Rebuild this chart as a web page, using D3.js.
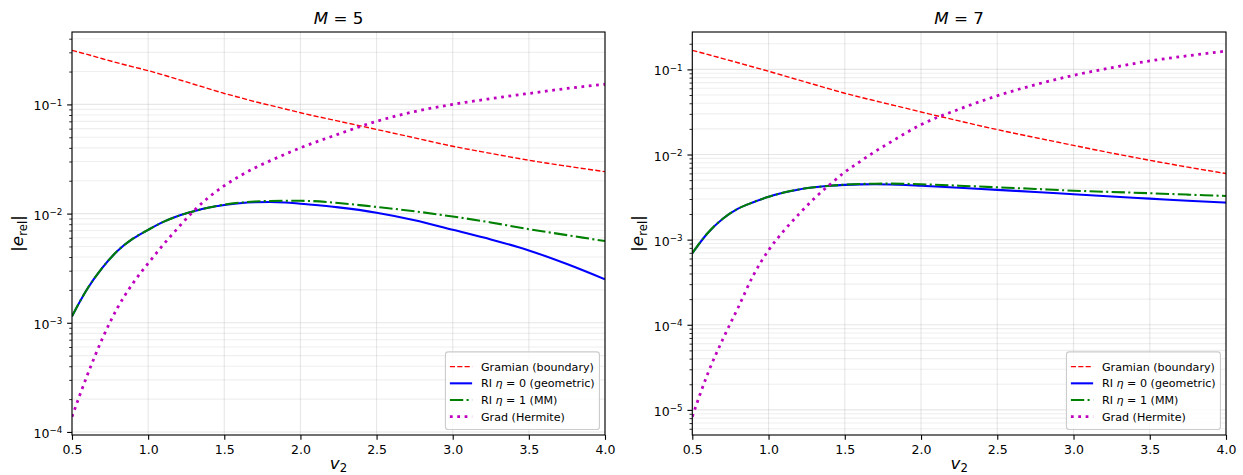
<!DOCTYPE html>
<html>
<head>
<meta charset="utf-8">
<script src="https://cdn.jsdelivr.net/npm/d3@7"></script>
<style>
  body { margin: 0; background: #fff; }
  text { font-family: "DejaVu Sans", sans-serif; fill: #000; }
</style>
</head>
<body>
<svg id="fig" width="1243" height="475"></svg>
<script>
// values
const v2Grid = [0.5, 0.6, 0.7, 0.8, 0.9, 1.0, 1.1, 1.2, 1.3, 1.4, 1.5, 1.6, 1.7, 1.8, 1.9, 2.0, 2.25, 2.5, 2.75, 3.0, 3.25, 3.5, 3.75, 4.0]
const xTicks = [0.5, 1.0, 1.5, 2.0, 2.5, 3.0, 3.5, 4.0]

const gramianM5 = [0.313, 0.287, 0.262, 0.240, 0.221, 0.204, 0.186, 0.169, 0.153, 0.139, 0.126, 0.116, 0.106, 0.0982, 0.0908, 0.0839, 0.0703, 0.0590, 0.0494, 0.0414, 0.0356, 0.0308, 0.0272, 0.0242]
const riGeoM5 = [1.15e-3, 2.04e-3, 3.2e-3, 4.57e-3, 5.89e-3, 7.1e-3, 8.4e-3, 9.55e-3, 10.5e-3, 11.35e-3, 11.97e-3, 12.45e-3, 12.7e-3, 12.75e-3, 12.65e-3, 12.3e-3, 11.4e-3, 10.2e-3, 8.7e-3, 7.1e-3, 5.8e-3, 4.6e-3, 3.45e-3, 2.5e-3]
const riMmM5 = [1.15e-3, 2.04e-3, 3.2e-3, 4.57e-3, 5.89e-3, 7.1e-3, 8.4e-3, 9.55e-3, 10.5e-3, 11.35e-3, 12.1e-3, 12.6e-3, 12.9e-3, 13.05e-3, 13.1e-3, 13.1e-3, 12.5e-3, 11.5e-3, 10.5e-3, 9.4e-3, 8.3e-3, 7.2e-3, 6.35e-3, 5.6e-3]
const gradM5 = [1.38e-4, 3.3e-4, 7.2e-4, 1.38e-3, 2.3e-3, 3.5e-3, 5.2e-3, 7.5e-3, 0.0106, 0.0142, 0.0180, 0.0220, 0.0262, 0.0304, 0.0350, 0.0400, 0.0535, 0.070, 0.086, 0.100, 0.113, 0.126, 0.140, 0.153]

const gramianM7 = [0.1675, 0.150, 0.134, 0.1197, 0.1067, 0.0951, 0.0843, 0.0748, 0.0664, 0.0589, 0.0525, 0.0472, 0.0427, 0.0386, 0.0350, 0.0316, 0.0248, 0.0196, 0.0158, 0.0128, 0.0104, 0.00855, 0.00711, 0.00598]
const riGeoM7 = [6.92e-4, 1.19e-3, 1.76e-3, 2.31e-3, 2.75e-3, 3.18e-3, 3.57e-3, 3.89e-3, 4.12e-3, 4.29e-3, 4.40e-3, 4.46e-3, 4.47e-3, 4.45e-3, 4.39e-3, 4.29e-3, 4.07e-3, 3.84e-3, 3.63e-3, 3.41e-3, 3.21e-3, 3.03e-3, 2.86e-3, 2.72e-3]
const riMmM7 = [6.92e-4, 1.19e-3, 1.76e-3, 2.31e-3, 2.75e-3, 3.18e-3, 3.57e-3, 3.89e-3, 4.12e-3, 4.29e-3, 4.42e-3, 4.50e-3, 4.54e-3, 4.55e-3, 4.52e-3, 4.47e-3, 4.30e-3, 4.12e-3, 3.94e-3, 3.76e-3, 3.63e-3, 3.51e-3, 3.38e-3, 3.26e-3]
const gradM7 = [8.32e-6, 2.63e-5, 6.76e-5, 1.585e-4, 3.80e-4, 7.50e-4, 1.27e-3, 2.0e-3, 3.05e-3, 4.40e-3, 6.21e-3, 8.26e-3, 0.01089, 0.01396, 0.0179, 0.0224, 0.0341, 0.0490, 0.0661, 0.0851, 0.1047, 0.1259, 0.1445, 0.164]

// legend labels: [text, italic]
const seriesLabels = [
  [["Gramian (boundary)", false]],
  [["RI ", false], ["η", true], [" = 0 (geometric)", false]],
  [["RI ", false], ["η", true], [" = 1 (MM)", false]],
  [["Grad (Hermite)", false]]
]

// styles (px, figure drawn at 100 dpi: 1pt = 1.389px)
const PT = 100 / 72
const styles = [
  { color: "#ff0000", width: 1 * PT, dash: [3.7 * PT, 1.6 * PT] },
  { color: "#0000ff", width: 1.5 * PT, dash: null },
  { color: "#008000", width: 1.5 * PT, dash: [9.6 * PT, 2.4 * PT, 1.5 * PT, 2.4 * PT] },
  { color: "#bf00bf", width: 2 * PT, dash: [2 * PT, 3.3 * PT] }
]

const panels = [
  { M: 5, left: 72, right: 605, series: [gramianM5, riGeoM5, riMmM5, gradM5], ylabelX: 23 },
  { M: 7, left: 692.3, right: 1226, series: [gramianM7, riGeoM7, riMmM7, gradM7], ylabelX: 643 }
]
const TOP = 32, BOTTOM = 435

const svg = d3.select("#fig")
const defs = svg.append("defs")

panels.forEach((p, pi) => {
  const g = svg.append("g")

  const x = d3.scaleLinear().domain([0.5, 4.0]).range([p.left, p.right])

  // matplotlib-style autoscale: 5% margin in log space
  const all = p.series.flat()
  const lmin = Math.log10(d3.min(all)), lmax = Math.log10(d3.max(all))
  const pad = (lmax - lmin) * 0.05
  const y = d3.scaleLog().domain([Math.pow(10, lmin - pad), Math.pow(10, lmax + pad)]).range([BOTTOM, TOP])

  const [lo, hi] = y.domain()
  const majors = [], minors = []
  for (let e = Math.floor(Math.log10(lo)); e <= Math.ceil(Math.log10(hi)); e++) {
    const b = Math.pow(10, e)
    if (b >= lo && b <= hi) majors.push(b)
    for (let m = 2; m <= 9; m++) {
      const t = m * b
      if (t >= lo && t <= hi) minors.push(t)
    }
  }

  // grid
  const grid = g.append("g").attr("stroke", "#b0b0b0").attr("stroke-width", 0.8 * PT)
  grid.selectAll(".gy-minor").data(minors).join("line")
    .attr("x1", p.left).attr("x2", p.right)
    .attr("y1", d => y(d)).attr("y2", d => y(d))
    .attr("stroke-opacity", 0.2)
  grid.selectAll(".gy-major").data(majors).join("line")
    .attr("x1", p.left).attr("x2", p.right)
    .attr("y1", d => y(d)).attr("y2", d => y(d))
    .attr("stroke-opacity", 0.3)
  grid.selectAll(".gx").data(xTicks).join("line")
    .attr("x1", d => x(d)).attr("x2", d => x(d))
    .attr("y1", TOP).attr("y2", BOTTOM)
    .attr("stroke-opacity", 0.3)

  // curves
  const clipId = `clip-${pi}`
  defs.append("clipPath").attr("id", clipId).append("rect")
    .attr("x", p.left).attr("y", TOP).attr("width", p.right - p.left).attr("height", BOTTOM - TOP)

  const line = d3.line().x(d => x(d[0])).y(d => y(d[1])).curve(d3.curveMonotoneX)
  const curves = g.append("g").attr("clip-path", `url(#${clipId})`)
  p.series.forEach((vals, si) => {
    const s = styles[si]
    curves.append("path")
      .attr("d", line(v2Grid.map((v, i) => [v, vals[i]])))
      .attr("fill", "none")
      .attr("stroke", s.color)
      .attr("stroke-width", s.width)
      .attr("stroke-dasharray", s.dash ? s.dash.join(",") : null)
      .attr("stroke-linejoin", "round")
  })

  // axes
  const tickW = 0.8 * PT
  const xAxis = g.append("g").attr("transform", `translate(0,${BOTTOM})`)
    .call(d3.axisBottom(x).tickValues(xTicks).tickFormat(d3.format(".1f"))
      .tickSize(3.5 * PT).tickPadding(3.5 * PT).tickSizeOuter(0))
  xAxis.select(".domain").remove()
  xAxis.selectAll("line").attr("stroke-width", tickW)
  xAxis.selectAll("text").style("font-size", "12.5px").style("font-family", "DejaVu Sans")

  const yMinor = g.append("g").attr("transform", `translate(${p.left},0)`)
    .call(d3.axisLeft(y).tickValues(minors).tickFormat(() => "").tickSize(2 * PT).tickSizeOuter(0))
  yMinor.select(".domain").remove()
  yMinor.selectAll("line").attr("stroke-width", 0.6 * PT)

  const yAxis = g.append("g").attr("transform", `translate(${p.left},0)`)
    .call(d3.axisLeft(y).tickValues(majors).tickFormat(() => "")
      .tickSize(3.5 * PT).tickPadding(3.5 * PT).tickSizeOuter(0))
  yAxis.select(".domain").remove()
  yAxis.selectAll("line").attr("stroke-width", tickW)
  yAxis.selectAll(".tick text").each(function (d) {
    const t = d3.select(this).attr("dy", null).attr("y", 5.5)
      .style("font-size", "12.5px").style("font-family", "DejaVu Sans")
    t.append("tspan").text("10")
    t.append("tspan").attr("dy", -4.5).style("font-size", "8.75px")
      .text("\u2212" + Math.round(-Math.log10(d)))
  })

  // frame
  g.append("rect")
    .attr("x", p.left).attr("y", TOP).attr("width", p.right - p.left).attr("height", BOTTOM - TOP)
    .attr("fill", "none").attr("stroke", "#000").attr("stroke-width", 0.8 * PT)

  const cx = (p.left + p.right) / 2

  // title
  const title = g.append("text").attr("x", cx).attr("y", 24).attr("text-anchor", "middle").style("font-size", "16.7px")
  title.append("tspan").attr("font-style", "italic").text("M")
  title.append("tspan").text(" = " + p.M)

  // x label
  const xl = g.append("text").attr("x", cx).attr("y", 468.5).attr("text-anchor", "middle").style("font-size", "16.7px")
  xl.append("tspan").attr("font-style", "italic").text("v")
  xl.append("tspan").attr("dy", 3).style("font-size", "11.7px").text("2")

  // y label
  const yl = g.append("text")
    .attr("transform", `translate(${p.ylabelX},${(TOP + BOTTOM) / 2}) rotate(-90)`)
    .attr("text-anchor", "middle").style("font-size", "16.7px")
  yl.append("tspan").text("|")
  yl.append("tspan").attr("font-style", "italic").text("e")
  yl.append("tspan").attr("dy", 3.5).style("font-size", "11.7px").text("rel")
  yl.append("tspan").attr("dy", -3.5).text("|")

  // legend (lower right)
  const fs = 8 * PT
  const rowH = fs * 1.5
  const boxW = 154, boxH = 4 * rowH + fs * 0.4 * 2 + 2
  const bx = p.right - fs * 0.5 - boxW, by = BOTTOM - fs * 0.5 - boxH
  const leg = g.append("g")
  leg.append("rect").attr("x", bx).attr("y", by).attr("width", boxW).attr("height", boxH)
    .attr("rx", 2.8).attr("fill", "#fff").attr("fill-opacity", 0.8)
    .attr("stroke", "#cccccc").attr("stroke-width", 0.8 * PT)
  seriesLabels.forEach((parts, i) => {
    const s = styles[i]
    const ry = by + fs * 0.4 + 4 + rowH * i + rowH / 2 - 2
    const hx = bx + fs * 0.4
    leg.append("line").attr("x1", hx).attr("x2", hx + 2 * fs).attr("y1", ry).attr("y2", ry)
      .attr("stroke", s.color).attr("stroke-width", s.width)
      .attr("stroke-dasharray", s.dash ? s.dash.join(",") : null)
    const t = leg.append("text").attr("x", hx + 2 * fs + 0.8 * fs).attr("y", ry + 4).style("font-size", fs + "px")
    parts.forEach(([txt, it]) => t.append("tspan").attr("font-style", it ? "italic" : null).text(txt))
  })
})
</script>
</body>
</html>
